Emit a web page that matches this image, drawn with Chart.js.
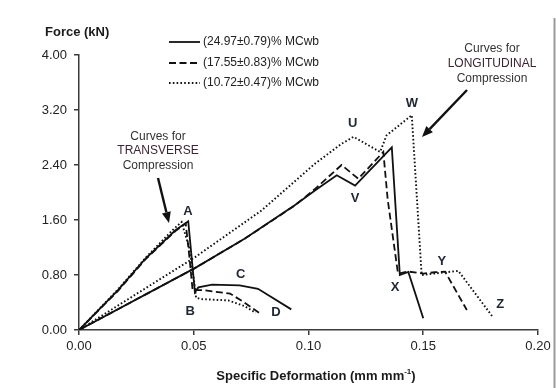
<!DOCTYPE html>
<html>
<head>
<meta charset="utf-8">
<script src="https://cdn.jsdelivr.net/npm/chart.js@4"></script>
<style>
  body { margin: 0; background: #fff; }
  #wrap { width: 556px; height: 388px; position: relative; }
</style>
</head>
<body>
<div id="wrap"><canvas id="forceChart" width="556" height="388"></canvas></div>
<script>
'use strict';

// tick labels
const xTicks = [0, 0.05, 0.1, 0.15, 0.2];
const yTicks = [0, 0.8, 1.6, 2.4, 3.2, 4.0];

// legend entries
const seriesNames = ['(24.97\u00B10.79)% MCwb', '(17.55\u00B10.83)% MCwb', '(10.72\u00B10.47)% MCwb'];

// transverse compression curves
const solidTransX = [0, 0.017, 0.029, 0.042, 0.0476, 0.0505, 0.052, 0.058, 0.070, 0.078, 0.0925];
const solidTransY = [0, 0.58, 1.04, 1.45, 1.58, 0.55, 0.62, 0.66, 0.65, 0.60, 0.30];
const dashTransX = [0, 0.017, 0.029, 0.042, 0.0465, 0.0483, 0.0495, 0.054, 0.0658, 0.0716, 0.0785];
const dashTransY = [0, 0.57, 1.03, 1.44, 1.55, 1.0, 0.58, 0.58, 0.53, 0.41, 0.25];
const dotTransX = [0, 0.017, 0.029, 0.041, 0.0447, 0.048, 0.050, 0.051, 0.053, 0.065, 0.072, 0.077];
const dotTransY = [0, 0.59, 1.05, 1.46, 1.57, 1.2, 0.75, 0.47, 0.45, 0.43, 0.35, 0.25];

// longitudinal compression curves
const solidLongX = [0, 0.0505, 0.0723, 0.094, 0.1028, 0.1123, 0.1203, 0.1363, 0.1398, 0.1435, 0.150];
const solidLongY = [0, 0.90, 1.33, 1.815, 2.03, 2.25, 2.10, 2.655, 0.80, 0.845, 0.17];
const dashLongX = [0, 0.0505, 0.0723, 0.094, 0.1028, 0.1144, 0.1217, 0.1326, 0.1345, 0.139, 0.1435, 0.150, 0.155, 0.1595, 0.169];
const dashLongY = [0, 0.90, 1.33, 1.81, 2.05, 2.40, 2.20, 2.59, 1.9, 0.82, 0.85, 0.82, 0.84, 0.85, 0.29];
const dotLongX = [0, 0.0506, 0.0796, 0.1028, 0.1145, 0.1196, 0.1312, 0.134, 0.145, 0.1493, 0.157, 0.1653, 0.1805];
const dotLongY = [0, 1.06, 1.74, 2.42, 2.71, 2.81, 2.59, 2.83, 3.125, 0.80, 0.83, 0.86, 0.18];

// point labels
const pointLabels = [
  { t: 'A', x: 0.0475, y: 1.73 },
  { t: 'B', x: 0.0485, y: 0.27 },
  { t: 'C', x: 0.0705, y: 0.81 },
  { t: 'D', x: 0.0858, y: 0.26 },
  { t: 'U', x: 0.1193, y: 3.0 },
  { t: 'V', x: 0.1203, y: 1.91 },
  { t: 'W', x: 0.1450, y: 3.3 },
  { t: 'X', x: 0.1377, y: 0.62 },
  { t: 'Y', x: 0.1581, y: 1.0 },
  { t: 'Z', x: 0.1835, y: 0.37 }
];

const FONT = '"Liberation Sans", Arial, sans-serif';
const INK = '#111';
const styles = [
  { dash: [], width: 1.8 },
  { dash: [7, 3.5], width: 1.8 },
  { dash: [1.6, 2.2], width: 1.9 }
];

function pts(xs, ys) {
  return xs.map((x, i) => ({ x: x, y: ys[i] }));
}

function makeSet(xs, ys, s) {
  return {
    data: pts(xs, ys),
    borderColor: INK,
    borderWidth: styles[s].width,
    borderDash: styles[s].dash,
    pointRadius: 0,
    tension: 0,
    fill: false
  };
}

function arrow(ctx, x1, y1, x2, y2) {
  const ang = Math.atan2(y2 - y1, x2 - x1);
  const hl = 11, hw = 4.5;
  const bx = x2 - hl * Math.cos(ang), by = y2 - hl * Math.sin(ang);
  ctx.beginPath();
  ctx.moveTo(x1, y1);
  ctx.lineTo(bx, by);
  ctx.lineWidth = 2.4;
  ctx.strokeStyle = INK;
  ctx.stroke();
  ctx.beginPath();
  ctx.moveTo(x2, y2);
  ctx.lineTo(bx + hw * Math.sin(ang), by - hw * Math.cos(ang));
  ctx.lineTo(bx - hw * Math.sin(ang), by + hw * Math.cos(ang));
  ctx.closePath();
  ctx.fillStyle = INK;
  ctx.fill();
}

const annotationPlugin = {
  id: 'annotations',
  afterDraw(chart) {
    const ctx = chart.ctx;
    const xs = chart.scales.x, ys = chart.scales.y;
    ctx.save();

    // y title
    ctx.font = 'bold 13px ' + FONT;
    ctx.fillStyle = '#1a1a1a';
    ctx.textAlign = 'left';
    ctx.textBaseline = 'middle';
    ctx.fillText('Force (kN)', 45, 32);

    // legend
    const rows = [42, 63, 83];
    rows.forEach((ry, i) => {
      ctx.beginPath();
      ctx.setLineDash(styles[i].dash);
      ctx.lineWidth = styles[i].width;
      ctx.strokeStyle = INK;
      ctx.moveTo(169, ry);
      ctx.lineTo(200, ry);
      ctx.stroke();
      ctx.setLineDash([]);
      ctx.font = '12px ' + FONT;
      ctx.fillStyle = '#222';
      ctx.textAlign = 'left';
      ctx.fillText(seriesNames[i], 203, ry);
    });

    // curve group notes
    ctx.font = '12px ' + FONT;
    ctx.textAlign = 'center';
    ctx.fillStyle = '#333';
    ctx.fillText('Curves for', 158, 137);
    ctx.fillStyle = '#3b2533';
    ctx.fillText('TRANSVERSE', 158, 151);
    ctx.fillStyle = '#333';
    ctx.fillText('Compression', 158, 166);

    ctx.fillText('Curves for', 492, 49);
    ctx.fillStyle = '#3b2533';
    ctx.fillText('LONGITUDINAL', 492, 64);
    ctx.fillStyle = '#333';
    ctx.fillText('Compression', 492, 79);

    arrow(ctx, 158, 178, 169, 223);
    arrow(ctx, 467, 90, 422, 137);

    // point letters
    ctx.font = 'bold 13px ' + FONT;
    ctx.fillStyle = '#1f2633';
    pointLabels.forEach((p) => {
      ctx.fillText(p.t, xs.getPixelForValue(p.x), ys.getPixelForValue(p.y));
    });

    // x title with superscript
    const base = 'Specific Deformation (mm mm';
    ctx.font = 'bold 13px ' + FONT;
    const w1 = ctx.measureText(base).width;
    ctx.font = 'bold 8px ' + FONT;
    const w2 = ctx.measureText('-1').width;
    ctx.font = 'bold 13px ' + FONT;
    const w3 = ctx.measureText(')').width;
    let tx = 316 - (w1 + w2 + w3) / 2;
    const ty = 376;
    ctx.textAlign = 'left';
    ctx.fillStyle = '#1a1a1a';
    ctx.fillText(base, tx, ty);
    tx += w1;
    ctx.font = 'bold 8px ' + FONT;
    ctx.fillText('-1', tx, ty - 4);
    tx += w2;
    ctx.font = 'bold 13px ' + FONT;
    ctx.fillText(')', tx, ty);

    // right frame edge
    ctx.beginPath();
    ctx.strokeStyle = '#9a9a9a';
    ctx.lineWidth = 2;
    ctx.moveTo(554.5, 18);
    ctx.lineTo(554.5, 388);
    ctx.stroke();

    ctx.restore();
  }
};

const ctx = document.getElementById('forceChart').getContext('2d');

const chart = new Chart(ctx, {
  type: 'line',
  data: {
    datasets: [
      makeSet(solidTransX, solidTransY, 0),
      makeSet(dashTransX, dashTransY, 1),
      makeSet(dotTransX, dotTransY, 2),
      makeSet(solidLongX, solidLongY, 0),
      makeSet(dashLongX, dashLongY, 1),
      makeSet(dotLongX, dotLongY, 2)
    ]
  },
  options: {
    responsive: false,
    animation: false,
    layout: {
      padding: { left: 0, top: 55, right: 18, bottom: 0 }
    },
    plugins: {
      legend: { display: false },
      tooltip: { enabled: false }
    },
    scales: {
      x: {
        type: 'linear',
        min: 0,
        max: 0.2,
        afterFit: (scale) => { scale.height = 58; },
        afterBuildTicks: (scale) => { scale.ticks = xTicks.map((v) => ({ value: v })); },
        border: { color: '#3a3a3a', width: 1.5 },
        grid: {
          drawOnChartArea: false,
          tickLength: 5,
          color: '#3a3a3a',
          lineWidth: 1.5
        },
        ticks: {
          padding: 4,
          color: '#222',
          font: { family: FONT, size: 13 },
          maxRotation: 0,
          callback: (v) => Number(v).toFixed(2)
        }
      },
      y: {
        type: 'linear',
        min: 0,
        max: 4,
        afterFit: (scale) => { scale.width = 79; },
        afterBuildTicks: (scale) => { scale.ticks = yTicks.map((v) => ({ value: v })); },
        border: { color: '#3a3a3a', width: 1.5 },
        grid: {
          drawOnChartArea: false,
          tickLength: 5,
          color: '#3a3a3a',
          lineWidth: 1.5
        },
        ticks: {
          padding: 7,
          color: '#222',
          font: { family: FONT, size: 13 },
          callback: (v) => Number(v).toFixed(2)
        }
      }
    }
  },
  plugins: [annotationPlugin]
});
</script>
</body>
</html>
